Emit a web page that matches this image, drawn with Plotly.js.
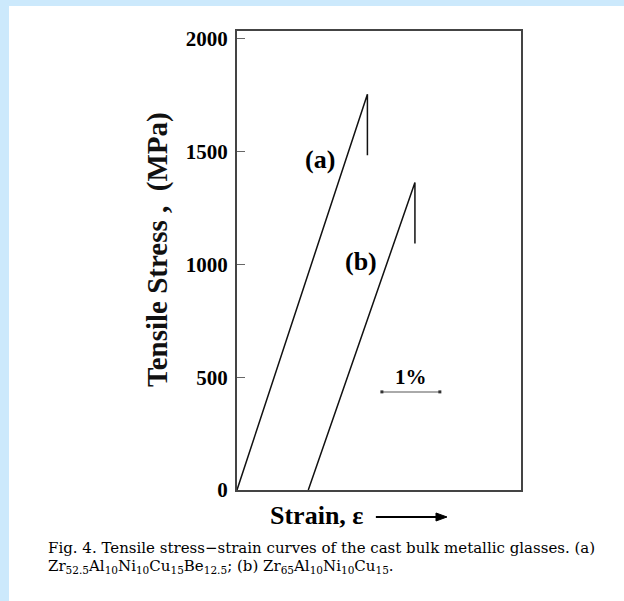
<!DOCTYPE html>
<html>
<head>
<meta charset="utf-8">
<script src="https://cdn.plot.ly/plotly-3.0.1.min.js"></script>
<style>
html,body{margin:0;padding:0;background:#cce9fc;width:624px;height:601px;overflow:hidden;}
#chart{position:absolute;left:9px;top:6px;width:615px;height:595px;background:#fff;}
</style>
</head>
<body>
<div id="chart"></div>
<script>
// Data (strain in %, stress in MPa)
const curveA_strain = [0, 2.25, 2.25];
const curveA_stress = [0, 1755, 1484];
const curveB_strain = [1.23, 3.07, 3.07];
const curveB_stress = [0, 1363, 1093];
const scaleBar_strain = [2.5, 3.5];
const scaleBar_stress = [435, 435];
const yTickVals = [0, 500, 1000, 1500, 2000];
const yTickText = ['0', '500', '1000', '1500', '2000'];

const serif = 'Liberation Serif, Times New Roman, serif';
const capSerif = 'DejaVu Serif, serif';

const traces = [
  {x: curveA_strain, y: curveA_stress, mode: 'lines', line: {color: '#111', width: 1.5}, hoverinfo: 'skip'},
  {x: curveB_strain, y: curveB_stress, mode: 'lines', line: {color: '#111', width: 1.5}, hoverinfo: 'skip'},
  {x: scaleBar_strain, y: scaleBar_stress, mode: 'lines+markers', line: {color: '#aaa', width: 2},
   marker: {symbol: 'square', size: 3, color: '#333'}, hoverinfo: 'skip'}
];

const layout = {
  width: 615, height: 595,
  margin: {l: 228, r: 103, t: 25, b: 111},
  paper_bgcolor: '#fff', plot_bgcolor: '#fff',
  showlegend: false,
  xaxis: {
    range: [0, 4.9], showgrid: false, zeroline: false, showticklabels: false, ticks: '',
    showline: true, mirror: true, linecolor: '#444', linewidth: 2
  },
  yaxis: {
    range: [0, 2035], showgrid: false, zeroline: false,
    tickvals: yTickVals, ticktext: yTickText,
    ticks: 'inside', ticklen: 8, tickcolor: '#666', tickwidth: 1, ticklabelstandoff: 3,
    tickfont: {family: serif, size: 21, color: '#000', weight: 'bold'},
    showline: true, mirror: true, linecolor: '#444', linewidth: 2
  },
  shapes: [
    {type: 'line', xref: 'paper', yref: 'paper', x0: 0.489, x1: 0.705, y0: -0.0588, y1: -0.0588,
     line: {color: '#000', width: 2}},
    {type: 'path', xref: 'paper', yref: 'paper',
     path: 'M 0.7007 -0.0501 L 0.7394 -0.0588 L 0.7007 -0.0675 Z',
     fillcolor: '#000', line: {color: '#000', width: 1}}
  ],
  annotations: [
    {x: -0.2817, y: 0.525, xref: 'paper', yref: 'paper', xanchor: 'center', yanchor: 'middle',
     text: 'Tensile Stress ,  (MPa)', textangle: -90, showarrow: false,
     font: {family: serif, size: 29, color: '#111', weight: 'bold'}},
    {x: 1.43, y: 1467, xref: 'x', yref: 'y', text: '(a)', showarrow: false,
     font: {family: serif, size: 26, color: '#000', weight: 'bold'}},
    {x: 2.14, y: 1013, xref: 'x', yref: 'y', text: '(b)', showarrow: false,
     font: {family: serif, size: 26, color: '#000', weight: 'bold'}},
    {x: 3.0, y: 500, xref: 'x', yref: 'y', text: '1%', showarrow: false,
     font: {family: serif, size: 21, color: '#000', weight: 'bold'}},
    {x: 0.109, y: -0.0545, xref: 'paper', yref: 'paper', xanchor: 'left', yanchor: 'middle', text: 'Strain, ε', showarrow: false,
     font: {family: serif, size: 26, color: '#000', weight: 'bold'}},
    {x: -0.6725, y: -0.1264, xref: 'paper', yref: 'paper', xanchor: 'left', yanchor: 'middle', showarrow: false,
     text: 'Fig. 4. Tensile stress\u2212strain curves of the cast bulk metallic glasses. (a)',
     font: {family: capSerif, size: 15, color: '#000'}},
    {x: -0.6725, y: -0.1656, xref: 'paper', yref: 'paper', xanchor: 'left', yanchor: 'middle', showarrow: false,
     text: 'Zr<sub>52.5</sub>Al<sub>10</sub>Ni<sub>10</sub>Cu<sub>15</sub>Be<sub>12.5</sub>; (b) Zr<sub>65</sub>Al<sub>10</sub>Ni<sub>10</sub>Cu<sub>15</sub>.',
     font: {family: capSerif, size: 15, color: '#000'}}
  ]
};

Plotly.newPlot('chart', traces, layout, {displayModeBar: false, staticPlot: true});
</script>
</body>
</html>
